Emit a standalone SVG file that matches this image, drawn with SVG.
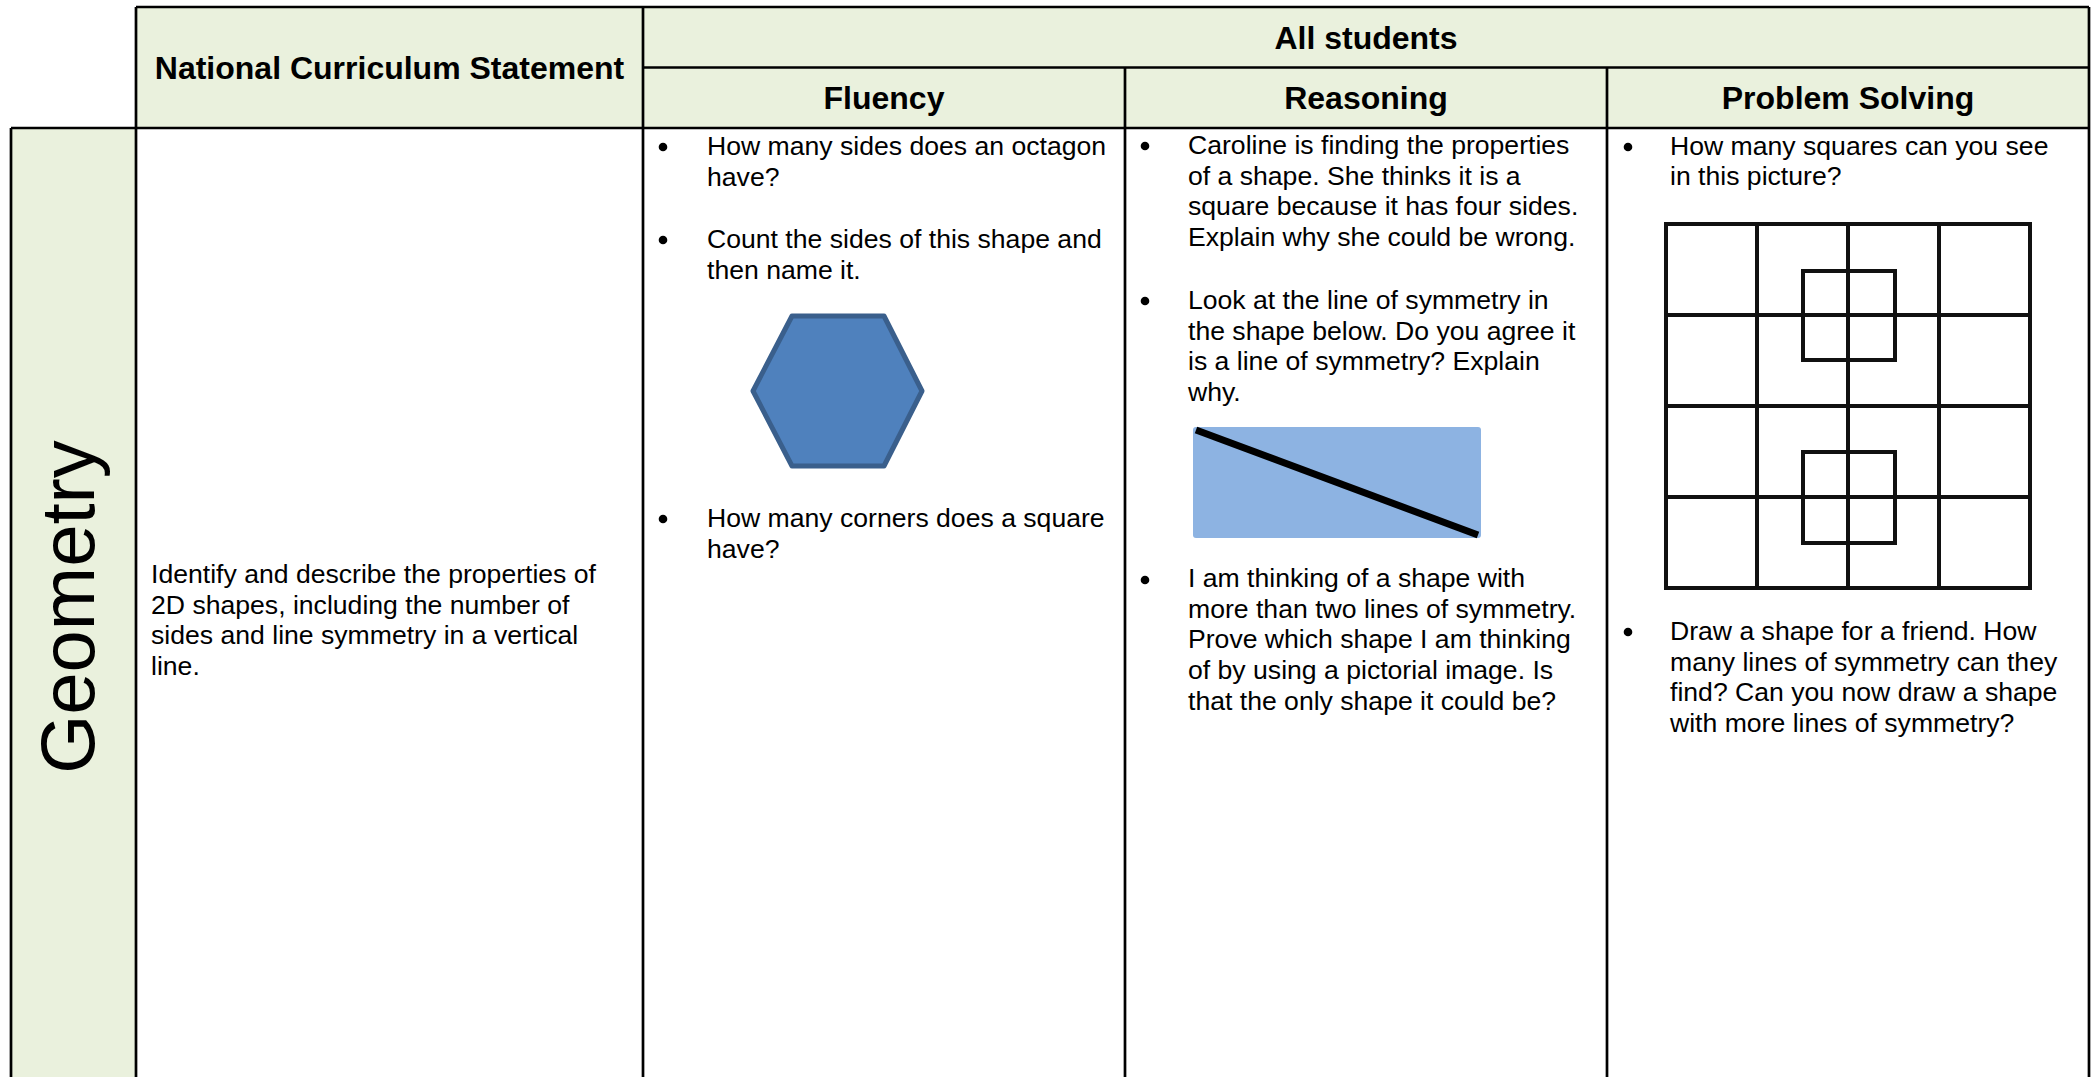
<svg xmlns="http://www.w3.org/2000/svg" width="2096" height="1077" viewBox="0 0 2096 1077">
  <style>
    .hd { font-family: "Liberation Sans", Arial, Helvetica, sans-serif; font-weight: bold; font-size: 32px; fill: #000; text-anchor: middle; }
    .bd { font-family: "Liberation Sans", Arial, Helvetica, sans-serif; font-size: 26.6px; fill: #000; }
    .geo { font-family: "Liberation Sans", Arial, Helvetica, sans-serif; font-size: 76px; fill: #000; text-anchor: middle; }
    .fill { fill: #EAF1DD; }
    .rule { stroke: #000; stroke-width: 2.7; fill: none; }
    .bullet { fill: #000; }
    .gridpic { stroke: #111; stroke-width: 4; fill: none; }
  </style>
  <rect x="0" y="0" width="2096" height="1077" fill="#fff"/>

  <g id="header-ncs">
    <rect class="fill" x="136" y="7" width="507" height="121"/>
    <text class="hd" x="389.5" y="78.5">National Curriculum Statement</text>
  </g>
  <g id="header-all-students">
    <rect class="fill" x="643" y="7" width="1446" height="60.5"/>
    <text class="hd" x="1366" y="48.5">All students</text>
  </g>
  <g id="header-fluency">
    <rect class="fill" x="643" y="67.5" width="482" height="60.5"/>
    <text class="hd" x="884" y="108.5">Fluency</text>
  </g>
  <g id="header-reasoning">
    <rect class="fill" x="1125" y="67.5" width="482" height="60.5"/>
    <text class="hd" x="1366" y="108.5">Reasoning</text>
  </g>
  <g id="header-problem-solving">
    <rect class="fill" x="1607" y="67.5" width="482" height="60.5"/>
    <text class="hd" x="1848" y="108.5">Problem Solving</text>
  </g>

  <g id="row-geometry">
    <rect class="fill" x="11" y="128" width="125" height="949"/>
    <text class="geo" transform="translate(94,607) rotate(-90)" x="0" y="0">Geometry</text>
  </g>

  <g id="cell-statement">
    <text class="bd" x="151" y="583">Identify and describe the properties of</text>
    <text class="bd" x="151" y="613.7">2D shapes, including the number of</text>
    <text class="bd" x="151" y="644.4">sides and line symmetry in a vertical</text>
    <text class="bd" x="151" y="675">line.</text>
  </g>

  <g id="cell-fluency">
    <circle class="bullet" cx="663" cy="147" r="4.3"/>
    <text class="bd" x="707" y="155">How many sides does an octagon</text>
    <text class="bd" x="707" y="185.7">have?</text>
    <circle class="bullet" cx="663" cy="240" r="4.3"/>
    <text class="bd" x="707" y="248">Count the sides of this shape and</text>
    <text class="bd" x="707" y="278.7">then name it.</text>
    <polygon points="792,316 884,316 922,391 884,466 792,466 753,391" fill="#4F81BD" stroke="#3A5F8C" stroke-width="5" stroke-linejoin="round"/>
    <circle class="bullet" cx="663" cy="519" r="4.3"/>
    <text class="bd" x="707" y="527">How many corners does a square</text>
    <text class="bd" x="707" y="557.7">have?</text>
  </g>

  <g id="cell-reasoning">
    <circle class="bullet" cx="1145" cy="146" r="4.3"/>
    <text class="bd" x="1188" y="154">Caroline is finding the properties</text>
    <text class="bd" x="1188" y="184.7">of a shape. She thinks it is a</text>
    <text class="bd" x="1188" y="215.4">square because it has four sides.</text>
    <text class="bd" x="1188" y="246">Explain why she could be wrong.</text>
    <circle class="bullet" cx="1145" cy="301" r="4.3"/>
    <text class="bd" x="1188" y="309">Look at the line of symmetry in</text>
    <text class="bd" x="1188" y="339.7">the shape below. Do you agree it</text>
    <text class="bd" x="1188" y="370.4">is a line of symmetry? Explain</text>
    <text class="bd" x="1188" y="401">why.</text>
    <rect x="1193" y="427" width="288" height="111" rx="3" fill="#8DB3E2"/>
    <line x1="1196" y1="430" x2="1478" y2="535" stroke="#000" stroke-width="7"/>
    <circle class="bullet" cx="1145" cy="580" r="4.3"/>
    <text class="bd" x="1188" y="587">I am thinking of a shape with</text>
    <text class="bd" x="1188" y="617.7">more than two lines of symmetry.</text>
    <text class="bd" x="1188" y="648.4">Prove which shape I am thinking</text>
    <text class="bd" x="1188" y="679">of by using a pictorial image. Is</text>
    <text class="bd" x="1188" y="709.7">that the only shape it could be?</text>
  </g>

  <g id="cell-problem-solving">
    <circle class="bullet" cx="1628" cy="147" r="4.3"/>
    <text class="bd" x="1670" y="155">How many squares can you see</text>
    <text class="bd" x="1670" y="184.7">in this picture?</text>
    <g id="squares-picture" class="gridpic">
      <rect x="1666" y="224" width="364" height="364"/>
      <line x1="1757" y1="224" x2="1757" y2="588"/>
      <line x1="1848" y1="224" x2="1848" y2="588"/>
      <line x1="1939" y1="224" x2="1939" y2="588"/>
      <line x1="1666" y1="315" x2="2030" y2="315"/>
      <line x1="1666" y1="406" x2="2030" y2="406"/>
      <line x1="1666" y1="497" x2="2030" y2="497"/>
      <rect x="1803" y="271" width="92" height="89"/>
      <rect x="1803" y="452" width="92" height="91"/>
    </g>
    <circle class="bullet" cx="1628" cy="632" r="4.3"/>
    <text class="bd" x="1670" y="640">Draw a shape for a friend. How</text>
    <text class="bd" x="1670" y="670.7">many lines of symmetry can they</text>
    <text class="bd" x="1670" y="701.4">find? Can you now draw a shape</text>
    <text class="bd" x="1670" y="732">with more lines of symmetry?</text>
  </g>

  <g id="table-rules" class="rule">
    <line x1="136" y1="7" x2="2089" y2="7"/>
    <line x1="643" y1="67.5" x2="2089" y2="67.5"/>
    <line x1="11" y1="128" x2="2089" y2="128"/>
    <line x1="11" y1="128" x2="11" y2="1077"/>
    <line x1="136" y1="7" x2="136" y2="1077"/>
    <line x1="643" y1="7" x2="643" y2="1077"/>
    <line x1="1125" y1="67.5" x2="1125" y2="1077"/>
    <line x1="1607" y1="67.5" x2="1607" y2="1077"/>
    <line x1="2089" y1="7" x2="2089" y2="1077"/>
  </g>
</svg>
